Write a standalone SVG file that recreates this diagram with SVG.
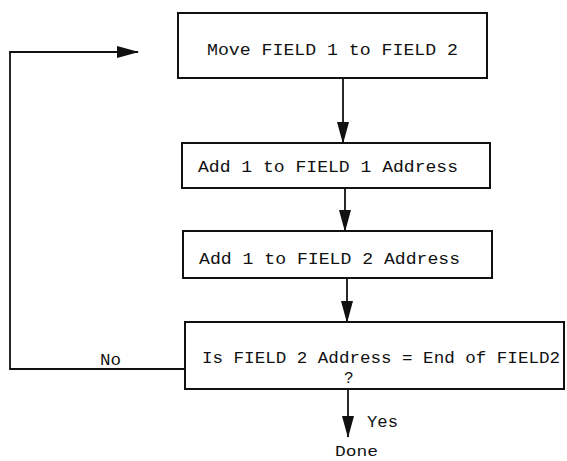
<svg xmlns="http://www.w3.org/2000/svg" width="567" height="461" viewBox="0 0 567 461">
<defs>
<style>
.box{fill:#fff;stroke:#111;stroke-width:2}
.ln{fill:none;stroke:#111;stroke-width:1.8}
.t{font-family:"Liberation Mono","DejaVu Sans Mono",monospace;font-size:16px;fill:#111}
</style>
<marker id="ah" markerUnits="userSpaceOnUse" markerWidth="22" markerHeight="12" refX="21" refY="6" orient="auto">
<path d="M0,0 L22,6 L0,12 Z" fill="#111"/>
</marker>
</defs>
<rect width="567" height="461" fill="#fff"/>
<g id="connectors">
<line class="ln" x1="343" y1="78" x2="343" y2="143" marker-end="url(#ah)"/>
<line class="ln" x1="345" y1="188" x2="345" y2="231" marker-end="url(#ah)"/>
<line class="ln" x1="347" y1="278" x2="347" y2="322" marker-end="url(#ah)"/>
<line class="ln" x1="348" y1="389" x2="348" y2="437" marker-end="url(#ah)"/>
<polyline class="ln" points="185,369 10,369 10,52 138,52" marker-end="url(#ah)"/>
<text class="t" x="100" y="365" textLength="21" lengthAdjust="spacingAndGlyphs">No</text>
<text class="t" x="367" y="427" textLength="31" lengthAdjust="spacingAndGlyphs">Yes</text>
<text class="t" x="335" y="456" textLength="43" lengthAdjust="spacingAndGlyphs" style="font-size:15px">Done</text>
</g>
<g id="move">
<rect class="box" x="178" y="13" width="309" height="65"/>
<text class="t" x="207" y="55" textLength="251" lengthAdjust="spacingAndGlyphs">Move FIELD 1 to FIELD 2</text>
</g>
<g id="add1">
<rect class="box" x="182" y="143" width="308" height="45"/>
<text class="t" x="198" y="172" textLength="260" lengthAdjust="spacingAndGlyphs">Add 1 to FIELD 1 Address</text>
</g>
<g id="add2">
<rect class="box" x="183" y="231" width="309" height="47"/>
<text class="t" x="199" y="264" textLength="261" lengthAdjust="spacingAndGlyphs">Add 1 to FIELD 2 Address</text>
</g>
<g id="test">
<rect class="box" x="185" y="322" width="379" height="67"/>
<text class="t" x="202" y="363" textLength="358" lengthAdjust="spacingAndGlyphs">Is FIELD 2 Address = End of FIELD2</text>
<text class="t" x="344" y="383">?</text>
</g>
</svg>
